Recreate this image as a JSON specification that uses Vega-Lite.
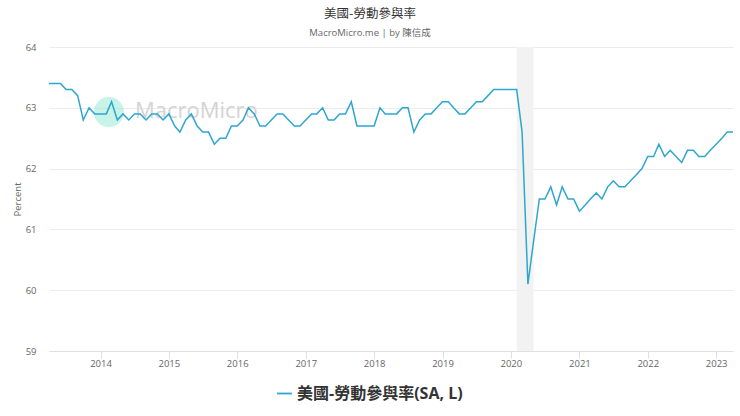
{
  "$schema": "https://vega.github.io/schema/vega-lite/v6.json",
  "title": {"text": "美國-勞動參與率", "subtitle": "MacroMicro.me | by 陳信成", "anchor": "middle", "dx": -21, "offset": 5, "fontSize": 12.5, "fontWeight": "normal", "color": "#333333", "font": "Noto Sans CJK TC", "subtitleFont": "Open Sans, Noto Sans CJK TC", "subtitleFontSize": 9.5, "subtitleColor": "#666666", "subtitlePadding": 7},
  "width": 684,
  "height": 304,
  "autosize": "none",
  "padding": {"left": 49, "top": 47, "right": 7, "bottom": 65},
  "background": "#ffffff",
  "config": {"view": {"stroke": null}, "font": "Open Sans"},
  "datasets": {
    "lfpr": [
      {"date": "2013-04-01", "value": 63.4}, {"date": "2013-05-01", "value": 63.4}, {"date": "2013-06-01", "value": 63.4}, {"date": "2013-07-01", "value": 63.3}, {"date": "2013-08-01", "value": 63.3}, {"date": "2013-09-01", "value": 63.2}, {"date": "2013-10-01", "value": 62.8}, {"date": "2013-11-01", "value": 63.0}, {"date": "2013-12-01", "value": 62.9},
      {"date": "2014-01-01", "value": 62.9}, {"date": "2014-02-01", "value": 62.9}, {"date": "2014-03-01", "value": 63.1}, {"date": "2014-04-01", "value": 62.8}, {"date": "2014-05-01", "value": 62.9}, {"date": "2014-06-01", "value": 62.8}, {"date": "2014-07-01", "value": 62.9}, {"date": "2014-08-01", "value": 62.9}, {"date": "2014-09-01", "value": 62.8}, {"date": "2014-10-01", "value": 62.9}, {"date": "2014-11-01", "value": 62.9}, {"date": "2014-12-01", "value": 62.8},
      {"date": "2015-01-01", "value": 62.9}, {"date": "2015-02-01", "value": 62.7}, {"date": "2015-03-01", "value": 62.6}, {"date": "2015-04-01", "value": 62.8}, {"date": "2015-05-01", "value": 62.9}, {"date": "2015-06-01", "value": 62.7}, {"date": "2015-07-01", "value": 62.6}, {"date": "2015-08-01", "value": 62.6}, {"date": "2015-09-01", "value": 62.4}, {"date": "2015-10-01", "value": 62.5}, {"date": "2015-11-01", "value": 62.5}, {"date": "2015-12-01", "value": 62.7},
      {"date": "2016-01-01", "value": 62.7}, {"date": "2016-02-01", "value": 62.8}, {"date": "2016-03-01", "value": 63.0}, {"date": "2016-04-01", "value": 62.9}, {"date": "2016-05-01", "value": 62.7}, {"date": "2016-06-01", "value": 62.7}, {"date": "2016-07-01", "value": 62.8}, {"date": "2016-08-01", "value": 62.9}, {"date": "2016-09-01", "value": 62.9}, {"date": "2016-10-01", "value": 62.8}, {"date": "2016-11-01", "value": 62.7}, {"date": "2016-12-01", "value": 62.7},
      {"date": "2017-01-01", "value": 62.8}, {"date": "2017-02-01", "value": 62.9}, {"date": "2017-03-01", "value": 62.9}, {"date": "2017-04-01", "value": 63.0}, {"date": "2017-05-01", "value": 62.8}, {"date": "2017-06-01", "value": 62.8}, {"date": "2017-07-01", "value": 62.9}, {"date": "2017-08-01", "value": 62.9}, {"date": "2017-09-01", "value": 63.1}, {"date": "2017-10-01", "value": 62.7}, {"date": "2017-11-01", "value": 62.7}, {"date": "2017-12-01", "value": 62.7},
      {"date": "2018-01-01", "value": 62.7}, {"date": "2018-02-01", "value": 63.0}, {"date": "2018-03-01", "value": 62.9}, {"date": "2018-04-01", "value": 62.9}, {"date": "2018-05-01", "value": 62.9}, {"date": "2018-06-01", "value": 63.0}, {"date": "2018-07-01", "value": 63.0}, {"date": "2018-08-01", "value": 62.6}, {"date": "2018-09-01", "value": 62.8}, {"date": "2018-10-01", "value": 62.9}, {"date": "2018-11-01", "value": 62.9}, {"date": "2018-12-01", "value": 63.0},
      {"date": "2019-01-01", "value": 63.1}, {"date": "2019-02-01", "value": 63.1}, {"date": "2019-03-01", "value": 63.0}, {"date": "2019-04-01", "value": 62.9}, {"date": "2019-05-01", "value": 62.9}, {"date": "2019-06-01", "value": 63.0}, {"date": "2019-07-01", "value": 63.1}, {"date": "2019-08-01", "value": 63.1}, {"date": "2019-09-01", "value": 63.2}, {"date": "2019-10-01", "value": 63.3}, {"date": "2019-11-01", "value": 63.3}, {"date": "2019-12-01", "value": 63.3},
      {"date": "2020-01-01", "value": 63.3}, {"date": "2020-02-01", "value": 63.3}, {"date": "2020-03-01", "value": 62.6}, {"date": "2020-04-01", "value": 60.1}, {"date": "2020-05-01", "value": 60.8}, {"date": "2020-06-01", "value": 61.5}, {"date": "2020-07-01", "value": 61.5}, {"date": "2020-08-01", "value": 61.7}, {"date": "2020-09-01", "value": 61.4}, {"date": "2020-10-01", "value": 61.7}, {"date": "2020-11-01", "value": 61.5}, {"date": "2020-12-01", "value": 61.5},
      {"date": "2021-01-01", "value": 61.3}, {"date": "2021-02-01", "value": 61.4}, {"date": "2021-03-01", "value": 61.5}, {"date": "2021-04-01", "value": 61.6}, {"date": "2021-05-01", "value": 61.5}, {"date": "2021-06-01", "value": 61.7}, {"date": "2021-07-01", "value": 61.8}, {"date": "2021-08-01", "value": 61.7}, {"date": "2021-09-01", "value": 61.7}, {"date": "2021-10-01", "value": 61.8}, {"date": "2021-11-01", "value": 61.9}, {"date": "2021-12-01", "value": 62.0},
      {"date": "2022-01-01", "value": 62.2}, {"date": "2022-02-01", "value": 62.2}, {"date": "2022-03-01", "value": 62.4}, {"date": "2022-04-01", "value": 62.2}, {"date": "2022-05-01", "value": 62.3}, {"date": "2022-06-01", "value": 62.2}, {"date": "2022-07-01", "value": 62.1}, {"date": "2022-08-01", "value": 62.3}, {"date": "2022-09-01", "value": 62.3}, {"date": "2022-10-01", "value": 62.2}, {"date": "2022-11-01", "value": 62.2}, {"date": "2022-12-01", "value": 62.3},
      {"date": "2023-01-01", "value": 62.4}, {"date": "2023-02-01", "value": 62.5}, {"date": "2023-03-01", "value": 62.6}, {"date": "2023-04-01", "value": 62.6}
    ]
  },
  "encoding": {
    "x": {
      "field": "date", "type": "temporal", "title": null,
      "scale": {"domain": ["2013-04-01", "2023-04-01"]},
      "axis": {"format": "%Y", "tickCount": {"interval": "year", "step": 1}, "grid": false, "domainColor": "#e0e0e0", "tickColor": "#e0e0e0", "tickSize": 7, "labelColor": "#666666", "labelFontSize": 9.5, "labelPadding": 0, "labelFont": "Open Sans"}
    }
  },
  "layer": [
    {
      "data": {"values": [{"start": "2020-02-01", "end": "2020-05-01"}]},
      "mark": {"type": "rect", "color": "#f2f2f2"},
      "encoding": {
        "x": {"field": "start", "type": "temporal", "title": null},
        "x2": {"field": "end"}
      }
    },
    {
      "data": {"name": "lfpr"},
      "mark": {"type": "rule", "opacity": 0},
      "encoding": {
        "y": {
          "field": "value", "type": "quantitative", "title": "Percent",
          "scale": {"domain": [59, 64]},
          "axis": {"values": [59, 60, 61, 62, 63, 64], "format": "d", "grid": true, "gridColor": "#ececec", "domain": false, "ticks": false, "labelColor": "#666666", "labelFontSize": 9.5, "labelPadding": 13, "labelFont": "Open Sans", "titleColor": "#666666", "titleFontSize": 9.5, "titleFontWeight": "normal", "titleFont": "Open Sans", "titlePadding": 3}
        }
      }
    },
    {
      "data": {"values": [{"date": "2014-02-15", "value": 62.93}]},
      "mark": {"type": "point", "filled": true, "size": 900, "color": "#8fe8d2", "opacity": 0.5},
      "encoding": {"y": {"field": "value", "type": "quantitative"}}
    },
    {
      "data": {"values": [{"date": "2014-07-04", "value": 62.95, "label": "MacroMicro"}]},
      "mark": {"type": "text", "align": "left", "baseline": "middle", "fontSize": 22, "color": "#d4d4d4", "font": "Open Sans"},
      "encoding": {"y": {"field": "value", "type": "quantitative"}, "text": {"field": "label"}}
    },
    {
      "data": {"name": "lfpr"},
      "mark": {"type": "line", "strokeWidth": 1.5, "interpolate": "linear"},
      "encoding": {
        "y": {"field": "value", "type": "quantitative"},
        "color": {
          "datum": "美國-勞動參與率(SA, L)",
          "scale": {"range": ["#2ea7cf"]},
          "legend": {"title": null, "orient": "none", "legendX": 227, "legendY": 338, "symbolType": "stroke", "symbolSize": 220, "symbolStrokeWidth": 1.8, "labelFontSize": 16, "labelFontWeight": "bold", "labelColor": "#333333", "labelFont": "Open Sans, Noto Sans CJK TC", "labelLimit": 300, "labelOffset": 4}
        }
      }
    }
  ]
}
